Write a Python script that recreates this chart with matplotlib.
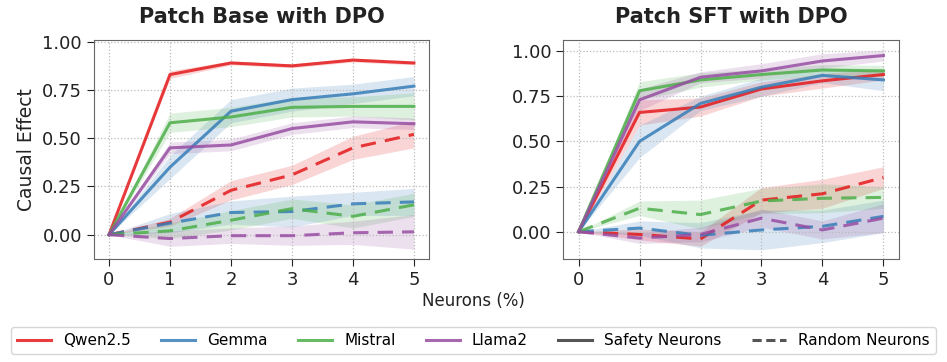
import numpy as np
import matplotlib
matplotlib.use("Agg")
import matplotlib.pyplot as plt
from matplotlib.lines import Line2D

x = [0, 1, 2, 3, 4, 5]
models = ['Qwen2.5', 'Gemma', 'Mistral', 'Llama2']
colors = ['#e41a1c', '#377eb8', '#4daf4a', '#984ea3']

# Patch Base with DPO
base_safety = {
    'Qwen2.5': [0, 0.83, 0.89, 0.875, 0.905, 0.89],
    'Gemma':   [0, 0.35, 0.64, 0.70, 0.73, 0.77],
    'Mistral': [0, 0.58, 0.61, 0.66, 0.665, 0.665],
    'Llama2':  [0, 0.45, 0.465, 0.55, 0.585, 0.575],
}
base_safety_err = {
    'Qwen2.5': [0, 0.02, 0.01, 0.01, 0.01, 0.01],
    'Gemma':   [0, 0.06, 0.06, 0.06, 0.05, 0.05],
    'Mistral': [0, 0.05, 0.05, 0.05, 0.05, 0.07],
    'Llama2':  [0, 0.03, 0.03, 0.03, 0.03, 0.03],
}
base_random = {
    'Qwen2.5': [0, 0.065, 0.23, 0.31, 0.45, 0.52],
    'Gemma':   [0, 0.06, 0.115, 0.12, 0.16, 0.17],
    'Mistral': [0, 0.02, 0.075, 0.135, 0.095, 0.155],
    'Llama2':  [0, -0.02, -0.005, -0.005, 0.01, 0.015],
}
base_random_err = {
    'Qwen2.5': [0, 0.02, 0.05, 0.05, 0.06, 0.07],
    'Gemma':   [0, 0.05, 0.06, 0.08, 0.06, 0.07],
    'Mistral': [0, 0.04, 0.05, 0.05, 0.06, 0.06],
    'Llama2':  [0, 0.04, 0.04, 0.05, 0.06, 0.09],
}

# Patch SFT with DPO
sft_safety = {
    'Qwen2.5': [0, 0.66, 0.69, 0.79, 0.835, 0.87],
    'Gemma':   [0, 0.50, 0.71, 0.80, 0.865, 0.84],
    'Mistral': [0, 0.78, 0.84, 0.87, 0.895, 0.89],
    'Llama2':  [0, 0.73, 0.855, 0.89, 0.945, 0.975],
}
sft_safety_err = {
    'Qwen2.5': [0, 0.07, 0.05, 0.04, 0.04, 0.03],
    'Gemma':   [0, 0.09, 0.04, 0.05, 0.04, 0.06],
    'Mistral': [0, 0.05, 0.04, 0.03, 0.03, 0.03],
    'Llama2':  [0, 0.06, 0.03, 0.04, 0.04, 0.03],
}
sft_random = {
    'Qwen2.5': [0, -0.015, -0.04, 0.175, 0.21, 0.30],
    'Gemma':   [0, 0.02, -0.02, 0.01, 0.03, 0.085],
    'Mistral': [0, 0.13, 0.095, 0.17, 0.185, 0.19],
    'Llama2':  [0, -0.035, -0.015, 0.075, 0.01, 0.075],
}
sft_random_err = {
    'Qwen2.5': [0, 0.03, 0.04, 0.07, 0.08, 0.06],
    'Gemma':   [0, 0.04, 0.07, 0.11, 0.09, 0.09],
    'Mistral': [0, 0.04, 0.08, 0.07, 0.08, 0.06],
    'Llama2':  [0, 0.03, 0.04, 0.05, 0.05, 0.08],
}

panels = [
    ('Patch Base with DPO', base_safety, base_safety_err, base_random, base_random_err, (-0.125, 1.01)),
    ('Patch SFT with DPO', sft_safety, sft_safety_err, sft_random, sft_random_err, (-0.15, 1.062)),
]

fig, axes = plt.subplots(1, 2, figsize=(9.47, 3.62), dpi=100)
fig.subplots_adjust(left=0.099, right=0.949, top=0.89, bottom=0.285, wspace=0.4)

for ax, (title, s, se, r, re, ylim) in zip(axes, panels):
    for m, c in zip(models, colors):
        ys, es = np.array(s[m]), np.array(se[m])
        yr, er = np.array(r[m]), np.array(re[m])
        ax.plot(x, ys, color=c, lw=2.2, alpha=0.85)
        ax.fill_between(x, ys - es, ys + es, color=c, alpha=0.18, lw=0)
        ax.plot(x, yr, color=c, lw=2.2, alpha=0.85, ls=(0, (5, 3)))
        ax.fill_between(x, yr - er, yr + er, color=c, alpha=0.18, lw=0)
    ax.set_title(title, fontsize=15, fontweight='bold', color='#222222', pad=12)
    ax.set_xlim(-0.25, 5.25)
    ax.set_ylim(*ylim)
    ax.set_xticks(x)
    ax.set_yticks([0, 0.25, 0.5, 0.75, 1.0])
    ax.tick_params(labelsize=13, colors='#222222', length=5)
    ax.grid(True, ls=':', color='#bbbbbb', lw=0.9)
    for sp in ax.spines.values():
        sp.set_color('#666666')

axes[0].set_ylabel('Causal Effect', fontsize=13.5, color='#222222')
fig.text(0.5, 0.155, 'Neurons (%)', ha='center', fontsize=12, color='#222222')

handles = [Line2D([], [], color=c, lw=2.2, alpha=0.85) for c in colors]
handles += [Line2D([], [], color='#555555', lw=2.2),
            Line2D([], [], color='#555555', lw=2.2, ls=(0, (3, 1.5)))]
labels = models + ['Safety Neurons', 'Random Neurons']
fig.legend(handles, labels, loc='lower center', ncol=6, fontsize=11,
           bbox_to_anchor=(0.5, 0.0), frameon=True, handlelength=2.2, columnspacing=2.0)

fig.savefig('out.png', dpi=100)
